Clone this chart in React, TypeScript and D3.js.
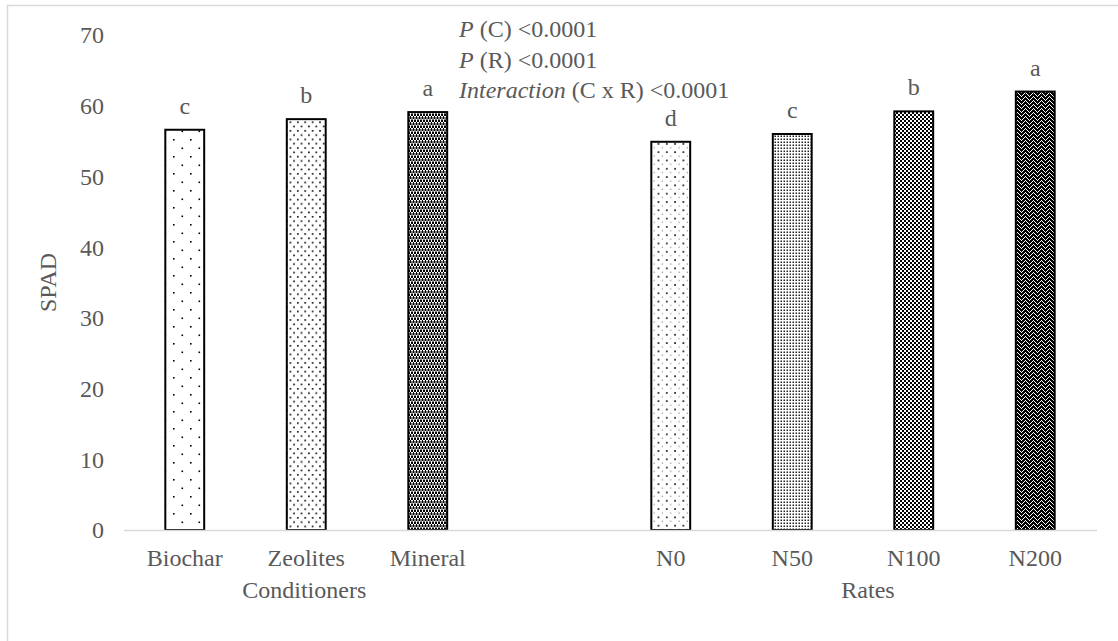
import React, { useEffect, useRef } from "react"
import * as d3 from "d3"

// bars, in drawing order; "" is the empty slot between the two groups
const categories = ["Biochar", "Zeolites", "Mineral", "", "N0", "N50", "N100", "N200"]
const spadValues = [56.6, 58.1, 59.1, null, 54.9, 56.0, 59.2, 62.0]
const letters = ["c", "b", "a", "", "d", "c", "b", "a"]
const patterns = ["pBiochar", "pZeolites", "pMineral", "", "pN0", "pN50", "pN100", "pN200"]
const yTicks = [0, 10, 20, 30, 40, 50, 60, 70]
const groups = [
  { label: "Conditioners", from: "Biochar", to: "Mineral", shift: -2 },
  { label: "Rates", from: "N0", to: "N200", shift: 15 },
]
const notes = [
  { it: "P", rest: " (C) <0.0001" },
  { it: "P", rest: " (R) <0.0001" },
  { it: "Interaction", rest: " (C x R) <0.0001" },
]

const W = 1118
const H = 641
const FONT = "Liberation Serif, Times New Roman, serif"
const TXT = "#595959"
const FS = 24

function Patterns() {
  return (
    <defs>
      <pattern id="pBiochar" width="17" height="17" patternUnits="userSpaceOnUse">
        <rect width="17" height="17" fill="#fff" />
        <rect x="3" y="3" width="1.6" height="1.6" fill="#000" />
        <rect x="11.5" y="11.5" width="1.6" height="1.6" fill="#000" />
      </pattern>
      <pattern id="pZeolites" width="7.4" height="8.6" patternUnits="userSpaceOnUse">
        <rect width="7.4" height="8.6" fill="#fff" />
        <rect x="1" y="1" width="1.6" height="1.6" fill="#000" />
        <rect x="4.7" y="5.3" width="1.6" height="1.6" fill="#000" />
      </pattern>
      <pattern id="pMineral" width="6" height="6" patternUnits="userSpaceOnUse">
        <rect width="6" height="6" fill="#fff" />
        <path d="M0 0h2v2h-2zM3 0h2v2h-2zM1.5 3h2v2h-2zM4.5 3h1.5v2h-1.5zM0 3h0.5v2h-0.5z" fill="#000" />
        <path d="M2 2h1v1h-1zM5 2h1v1h-1zM0.5 5h1v1h-1zM3.5 5h1v1h-1z" fill="#000" />
      </pattern>
      <pattern id="pN0" width="8.3" height="8.3" patternUnits="userSpaceOnUse">
        <rect width="8.3" height="8.3" fill="#fff" />
        <rect x="2" y="2" width="1.6" height="1.6" fill="#000" />
        <rect x="6.2" y="6.2" width="1.2" height="0.8" fill="#555" />
      </pattern>
      <pattern id="pN50" width="3" height="3" patternUnits="userSpaceOnUse">
        <rect width="3" height="3" fill="#fff" />
        <rect x="0.5" y="0.5" width="1.5" height="1.5" fill="#222" />
      </pattern>
      <pattern id="pN100" width="8" height="8" patternUnits="userSpaceOnUse">
        <rect width="8" height="8" fill="#fff" />
        <path d="M0 0h2v2h-2zM4 0h2v2h-2zM2 2h2v2h-2zM6 2h2v2h-2zM0 4h2v2h-2zM4 4h2v2h-2zM2 6h2v2h-2zM6 6h2v2h-2z" fill="#000" />
        <rect x="1" y="1" width="1" height="1" fill="#000" />
        <rect x="5" y="5" width="1" height="1" fill="#000" />
      </pattern>
      <pattern id="pN200" width="8" height="8" patternUnits="userSpaceOnUse">
        <rect width="8" height="8" fill="#000" />
        <path d="M1 0h1v1h-1zM5 0h1v1h-1zM3 2h1v1h-1zM7 2h1v1h-1zM1 4h1v1h-1zM5 4h1v1h-1zM3 6h1v1h-1zM7 6h1v1h-1z" fill="#fff" />
        <path d="M0 1h1v1h-1zM2 1h1v1h-1zM4 3h1v1h-1zM6 3h1v1h-1zM0 5h1v1h-1zM2 5h1v1h-1zM4 7h1v1h-1zM6 7h1v1h-1z" fill="#fff" />
      </pattern>
    </defs>
  )
}

export default function App() {
  const ref = useRef<SVGSVGElement>(null)

  useEffect(() => {
    if (!ref.current) return
    const svg = d3.select(ref.current)
    svg.selectAll(".chart").remove()
    const g = svg.append("g").attr("class", "chart").style("font-family", FONT)

    const x = d3.scaleBand<string>().domain(categories).range([124, 1096]).paddingInner(0.68).paddingOuter(0.34)
    const y = d3.scaleLinear().domain([0, 70]).range([530, 35])

    // outer frame
    g.append("rect")
      .attr("x", 7.5)
      .attr("y", 5.5)
      .attr("width", W + 20)
      .attr("height", H + 20)
      .attr("fill", "none")
      .attr("stroke", "#d9d9d9")
      .attr("stroke-width", 1.5)

    // y tick labels
    g.selectAll(".ytick")
      .data(yTicks)
      .enter()
      .append("text")
      .attr("x", 104)
      .attr("y", (d) => y(d))
      .attr("dy", "0.35em")
      .attr("text-anchor", "end")
      .attr("font-size", FS)
      .attr("fill", TXT)
      .text((d) => d)

    g.append("text")
      .attr("transform", `translate(56,${(y(0) + y(70)) / 2}) rotate(-90)`)
      .attr("text-anchor", "middle")
      .attr("font-size", FS)
      .attr("fill", TXT)
      .text("SPAD")

    const data = categories
      .map((c, i) => ({ c, v: spadValues[i], letter: letters[i], pat: patterns[i] }))
      .filter((d) => d.v !== null)

    g.selectAll(".bar")
      .data(data)
      .enter()
      .append("rect")
      .attr("x", (d) => x(d.c)!)
      .attr("y", (d) => y(d.v as number))
      .attr("width", x.bandwidth())
      .attr("height", (d) => y(0) - y(d.v as number))
      .attr("fill", (d) => `url(#${d.pat})`)
      .attr("stroke", "#000")
      .attr("stroke-width", 2)

    g.selectAll(".letter")
      .data(data)
      .enter()
      .append("text")
      .attr("x", (d) => x(d.c)! + x.bandwidth() / 2)
      .attr("y", (d) => y(d.v as number) - 16)
      .attr("text-anchor", "middle")
      .attr("font-size", FS)
      .attr("fill", TXT)
      .text((d) => d.letter)

    // x axis line
    g.append("line")
      .attr("x1", 124)
      .attr("x2", 1097)
      .attr("y1", y(0) + 0.5)
      .attr("y2", y(0) + 0.5)
      .attr("stroke", "#d9d9d9")
      .attr("stroke-width", 1.5)

    g.selectAll(".xlab")
      .data(data)
      .enter()
      .append("text")
      .attr("x", (d) => x(d.c)! + x.bandwidth() / 2)
      .attr("y", 566)
      .attr("text-anchor", "middle")
      .attr("font-size", FS)
      .attr("fill", TXT)
      .text((d) => d.c)

    g.selectAll(".glab")
      .data(groups)
      .enter()
      .append("text")
      .attr("x", (d) => (x(d.from)! + x(d.to)! + x.bandwidth()) / 2 + d.shift)
      .attr("y", 598)
      .attr("text-anchor", "middle")
      .attr("font-size", FS)
      .attr("fill", TXT)
      .text((d) => d.label)

    // significance notes
    const nt = g.selectAll(".note")
      .data(notes)
      .enter()
      .append("text")
      .attr("x", 459)
      .attr("y", (_d, i) => 37 + i * 30.5)
      .attr("font-size", FS)
      .attr("fill", TXT)
    nt.append("tspan").attr("font-style", "italic").text((d) => d.it)
    nt.append("tspan").text((d) => d.rest)
  }, [])

  return (
    <svg
      ref={ref}
      width={W}
      height={H}
      style={{ position: "absolute", left: 0, top: 0, background: "#fff" }}
    >
      <Patterns />
    </svg>
  )
}
